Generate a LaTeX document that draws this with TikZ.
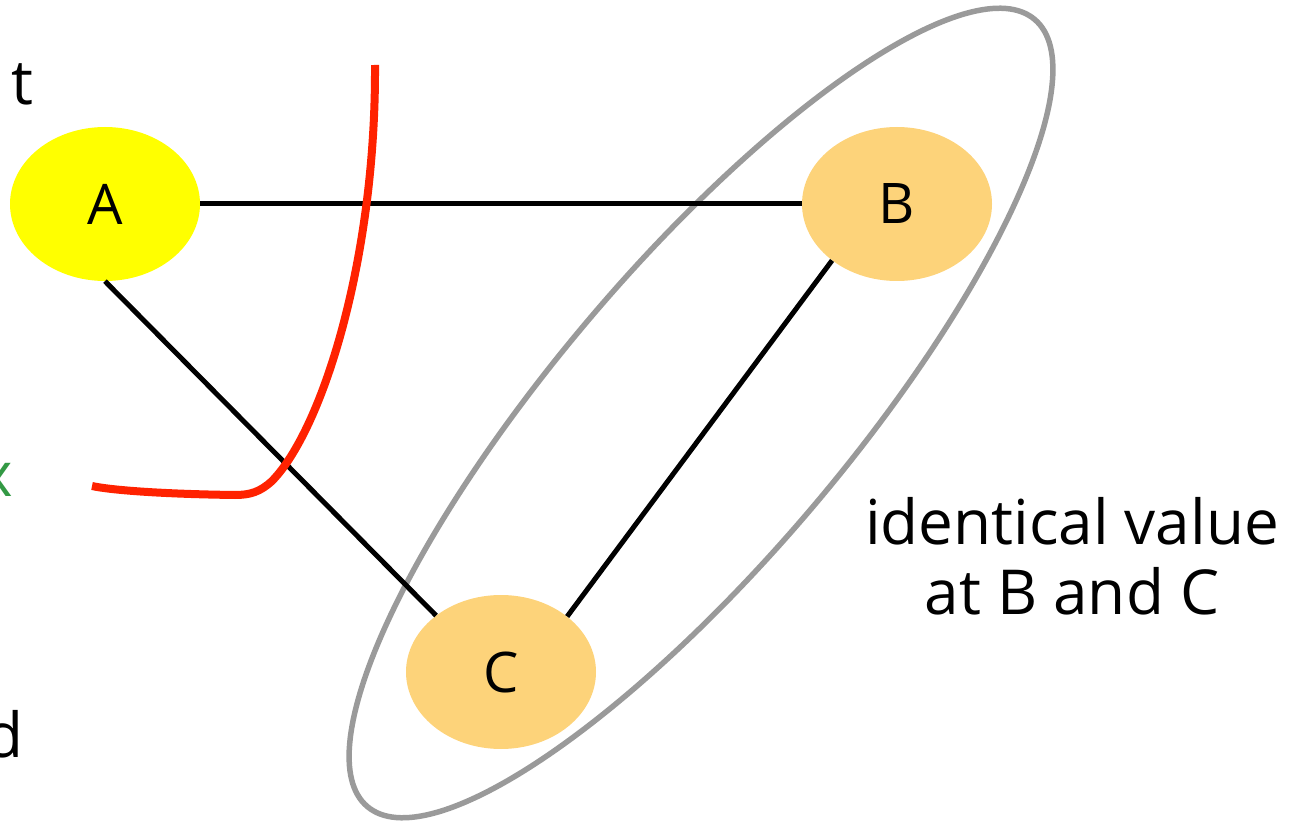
\documentclass[tikz,border=0pt]{standalone}
\usepackage{fontspec}
\setmainfont{Open Sans}
\usetikzlibrary{shapes.geometric}
\definecolor{nodeorange}{HTML}{FDD37A}
\definecolor{nodeyellow}{HTML}{FFFF00}
\definecolor{cutred}{HTML}{FF2200}
\definecolor{grpgray}{HTML}{9A9A9A}
\definecolor{txtgreen}{HTML}{339944}
\begin{document}
\begin{tikzpicture}[x=1pt,y=-1pt,
  vnode/.style={ellipse, minimum width=190pt, minimum height=154pt, inner sep=0pt,
    font=\fontsize{56}{60}\selectfont},
  edge/.style={line width=5pt, black},
  bigtext/.style={font=\fontsize{62}{70}\selectfont, inner sep=0pt}]
\useasboundingbox (0,0) rectangle (1302,826);
\clip (0,0) rectangle (1302,826);
% group ellipse
\draw[grpgray, line width=5.5pt, shift={(701,413)}, rotate=49.7] (0,0) ellipse [x radius=516pt, y radius=146pt];
% nodes
\node[vnode, fill=nodeyellow] (A) at (105,204) {A};
\node[vnode, fill=nodeorange] (B) at (897,204) {B};
\node[vnode, fill=nodeorange] (C) at (501,672) {C};
% edges
\draw[edge] (A.east) -- (B.west);
\draw[edge] (A.south) -- (C.139);
\draw[edge] (B.221) -- (C.40);
% red cut
\draw[cutred, line width=8pt] (375,65) .. controls (376,260) and (322,430) .. (272,481)
  .. controls (260,492) and (250,495) .. (235,495)
  .. controls (160,494) and (110,490) .. (92,486);
% texts
\node[bigtext, align=center] (lbl) at (1072,556) {identical value\\at B and C};
\node[bigtext, anchor=base east] (t1) at (34,105) {t};
\node[bigtext, anchor=base east, text=txtgreen] (t2) at (13,496) {x};
\node[bigtext, anchor=base east] (t3) at (24,757) {d};
\end{tikzpicture}
\end{document}
